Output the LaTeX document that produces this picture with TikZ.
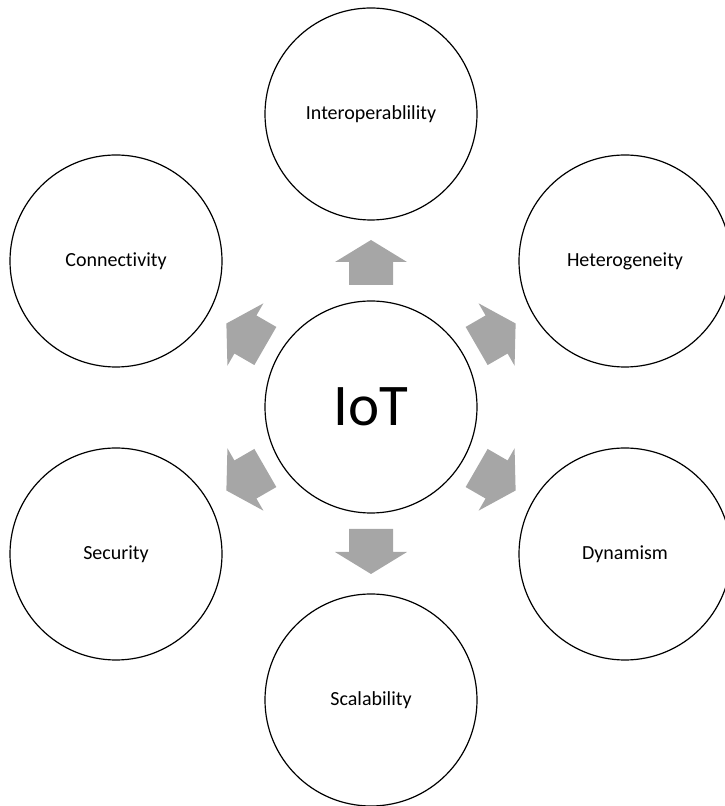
\documentclass[tikz,border=0pt]{standalone}
\usepackage{fontspec}
\setmainfont[Ligatures={NoCommon}]{Carlito}
\definecolor{arrowgray}{RGB}{166,166,166}
\begin{document}
\begin{tikzpicture}[x=1pt,y=1pt,
  bubble/.style={circle,draw=black,line width=1.2pt,minimum size=212pt,inner sep=0pt,font=\fontsize{20}{24}\selectfont},
  hub/.style={bubble,font=\fontsize{59}{70}\selectfont},
  blockarrow/.style={fill=arrowgray,draw=none}]
\useasboundingbox (0,0) rectangle (725,806);
\node[hub] (iot) at (371,399) {IoT};
\node[bubble] (inter) at (371,692) {Interoperablility};
\node[bubble] (conn) at (116,545) {Connectivity};
\node[bubble] (het) at (625,545) {Heterogeneity};
\node[bubble] (sec) at (116,252) {Security};
\node[bubble] (dyn) at (625,252) {Dynamism};
\node[bubble] (scal) at (371,106) {Scalability};
\foreach \a in {90,150,30,210,330,270}{
  \begin{scope}[shift={(iot.center)},rotate=\a]
    \fill[blockarrow] (122,-22) -- (145,-22) -- (145,-36) -- (167,0) -- (145,36) -- (145,22) -- (122,22) -- cycle;
  \end{scope}
}
\end{tikzpicture}
\end{document}
